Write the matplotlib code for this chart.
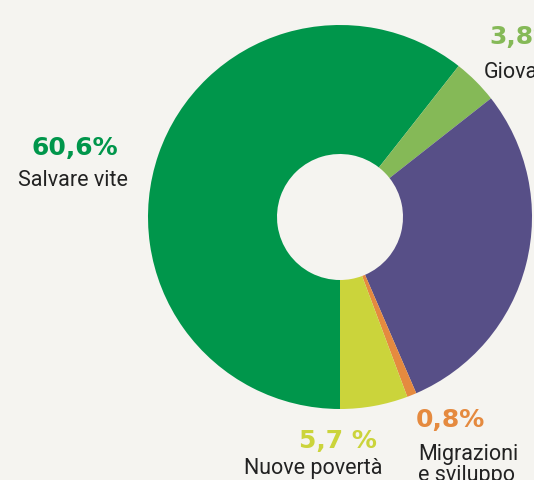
import matplotlib.pyplot as plt

# quote per area (%), in senso orario dal basso
labels = ['Salvare vite', 'Giovani', 'Altro', 'Migrazioni\ne sviluppo', 'Nuove povertà']
values = [60.6, 3.8, 29.1, 0.8, 5.7]
pct_text = ['60,6%', '3,8%', '', '0,8%', '5,7 %']
colors = ['#00964b', '#85b957', '#574f87', '#e58a3f', '#cbd43b']

BG = '#f5f4f0'
W, H = 534, 481

fig = plt.figure(figsize=(W / 100, H / 100), dpi=100)
fig.patch.set_facecolor(BG)
ax = fig.add_axes([0, 0, 1, 1])
ax.set_facecolor(BG)

cx, cy, r, r_in = 340, H - 218, 192, 63
ax.pie(values, colors=colors, startangle=270, counterclock=False,
       center=(cx, cy), radius=r, frame=True,
       wedgeprops=dict(width=r - r_in, linewidth=0))
ax.set_xlim(0, W)
ax.set_ylim(0, H)
ax.set_aspect('equal')
ax.axis('off')

num_font = dict(family=['DejaVu Sans'], fontweight='bold', fontsize=18)
lab_font = dict(family=['Roboto', 'DejaVu Sans'], fontsize=15.5, color='#222222')

# Salvare vite
ax.text(75, H - 148, pct_text[0], color=colors[0], ha='center', va='center', **num_font)
ax.text(73, H - 181, labels[0], ha='center', va='center', **lab_font)

# Giovani
ax.text(489, H - 37, pct_text[1], color=colors[1], ha='left', va='center', **num_font)
ax.text(484, H - 72, labels[1], ha='left', va='center', **lab_font)

# Migrazioni e sviluppo
ax.text(416, H - 420, pct_text[3], color=colors[3], ha='left', va='center', **num_font)
ax.text(418, H - 455, 'Migrazioni', ha='left', va='center', **lab_font)
ax.text(418, H - 476, 'e sviluppo', ha='left', va='center', **lab_font)

# Nuove povertà
ax.text(377, H - 441, pct_text[4], color=colors[4], ha='right', va='center', **num_font)
ax.text(382, H - 469, labels[4], ha='right', va='center', **lab_font)

fig.savefig('out.png', dpi=100, facecolor=BG)
